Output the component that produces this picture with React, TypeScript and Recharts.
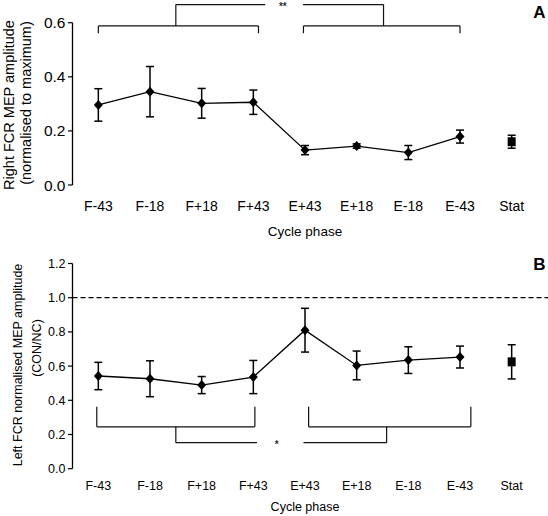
import React from "react";
import {
  ComposedChart,
  Line,
  Scatter,
  XAxis,
  YAxis,
  ErrorBar,
  ReferenceLine,
  ReferenceDot,
} from "recharts";

const FONT = "'Liberation Sans', Arial, Helvetica, sans-serif";

// cycle phases, last one is the static condition (drawn as a separate square)
const phases = ["F-43", "F-18", "F+18", "F+43", "E+43", "E+18", "E-18", "E-43", "Stat"];
const cyclePhases = phases.slice(0, 8);

// panel A: right FCR MEP amplitude (normalised to maximum)
const rightMeans = [0.296, 0.345, 0.302, 0.306, 0.129, 0.144, 0.12, 0.179];
const rightErrs = [0.06, 0.093, 0.055, 0.045, 0.017, 0.008, 0.026, 0.024];
const rightStat = 0.16;
const rightStatErr = 0.024;

// panel B: left FCR normalised MEP amplitude (CON/NC)
const leftMeans = [0.542, 0.526, 0.489, 0.536, 0.81, 0.604, 0.635, 0.653];
const leftErrs = [0.08, 0.105, 0.05, 0.097, 0.128, 0.084, 0.078, 0.064];
const leftStat = 0.625;
const leftStatErr = 0.1;

const topTicks = [0, 0.2, 0.4, 0.6];
const bottomTicks = [0, 0.2, 0.4, 0.6, 0.8, 1.0, 1.2];

// significance brackets, as polylines in (phase index, value) units
const topBrackets = [
  [[0.5, 0.561], [0.5, 0.588], [3.6, 0.588], [3.6, 0.561]],
  [[4.47, 0.561], [4.47, 0.588], [7.5, 0.588], [7.5, 0.561]],
  [[2.0, 0.588], [2.0, 0.667], [3.73, 0.667]],
  [[4.46, 0.667], [6.02, 0.667], [6.02, 0.588]],
];
const topStar = { x: 4.07, y: 0.667, text: "**" };

const bottomBrackets = [
  [[0.47, 0.362], [0.47, 0.245], [3.53, 0.245], [3.53, 0.362]],
  [[4.57, 0.362], [4.57, 0.245], [7.71, 0.245], [7.71, 0.362]],
  [[2.0, 0.245], [2.0, 0.152], [3.57, 0.152]],
  [[4.47, 0.152], [6.08, 0.152], [6.08, 0.245]],
];
const bottomStar = { x: 3.95, y: 0.152, text: "*" };

const boundaryTicks = phases.map((_, i) => i).concat([phases.length]);
const centreTicks = phases.map((_, i) => i + 0.5);

function Diamond(props: any) {
  const { cx, cy, index } = props;
  if (cx == null || cy == null) return null;
  return (
    <polygon
      key={`d-${index}`}
      points={`${cx},${cy - 5} ${cx + 4.5},${cy} ${cx},${cy + 5} ${cx - 4.5},${cy}`}
      fill="#000"
    />
  );
}

function Square(props: any) {
  const { cx, cy } = props;
  return <rect x={cx - 4} y={cy - 4.5} width={8} height={9} fill="#000" />;
}

function segments(brackets: number[][][], prefix: string) {
  const out: any[] = [];
  brackets.forEach((pts, b) => {
    for (let i = 0; i < pts.length - 1; i++) {
      out.push(
        <ReferenceLine
          key={`${prefix}-${b}-${i}`}
          segment={[
            { x: pts[i][0], y: pts[i][1] },
            { x: pts[i + 1][0], y: pts[i + 1][1] },
          ]}
          stroke="#111"
          strokeWidth={1.2}
          ifOverflow="visible"
        />
      );
    }
  });
  return out;
}

function Panel({
  means,
  errs,
  stat,
  statErr,
  height,
  top,
  plotTop,
  plotHeight,
  yMax,
  yTicks,
  brackets,
  star,
  fontSize,
  yFontSize,
  labelGap,
  dashed,
}: any) {
  const rows = cyclePhases.map((p, i) => ({ x: i + 0.5, phase: p, v: means[i], err: errs[i] }));
  const statRows = [{ x: phases.length - 0.5, v: stat, err: statErr }];
  return (
    <div style={{ position: "absolute", left: 0, top }}>
      <ComposedChart
        width={548}
        height={height}
        data={rows}
        margin={{ top: plotTop, right: 10.5, left: 0, bottom: height - plotTop - plotHeight - 60 }}
      >
        <XAxis
          xAxisId={0}
          dataKey="x"
          type="number"
          domain={[0, phases.length]}
          ticks={boundaryTicks}
          interval={0}
          tickFormatter={() => ""}
          tickSize={5}
          height={0}
          axisLine={{ stroke: "#000", strokeWidth: 1.3 }}
          tickLine={{ stroke: "#000", strokeWidth: 1.2 }}
        />
        <XAxis
          xAxisId="lab"
          dataKey="x"
          type="number"
          domain={[0, phases.length]}
          ticks={centreTicks}
          interval={0}
          tickFormatter={(v: number) => phases[Math.floor(v)] ?? ""}
          axisLine={false}
          tickLine={false}
          tickSize={0}
          tickMargin={labelGap}
          height={60}
          tick={{ fill: "#000", fontSize, fontFamily: FONT }}
        />
        <YAxis
          type="number"
          domain={[0, yMax]}
          ticks={yTicks}
          interval={0}
          width={72.5}
          tickSize={4.5}
          tickMargin={2.5}
          tickFormatter={(v: number) => v.toFixed(1)}
          axisLine={{ stroke: "#000", strokeWidth: 1.3 }}
          tickLine={{ stroke: "#000", strokeWidth: 1.2 }}
          tick={{ fill: "#000", fontSize: yFontSize, fontFamily: FONT }}
        />
        {dashed && (
          <ReferenceLine
            segment={[
              { x: 0, y: 1 },
              { x: 9.22, y: 1 },
            ]}
            stroke="#000"
            strokeWidth={1.3}
            strokeDasharray="5 3"
            ifOverflow="visible"
          />
        )}
        {segments(brackets, "br")}
        <ReferenceDot
          x={star.x}
          y={star.y}
          r={0}
          fill="none"
          stroke="none"
          ifOverflow="visible"
          label={{
            value: star.text,
            position: "center",
            fill: "#333",
            stroke: "none",
            fontSize: 10,
            fontWeight: "bold",
            fontFamily: FONT,
            dy: 2,
          }}
        />
        <Line
          dataKey="v"
          stroke="#000"
          strokeWidth={1.3}
          dot={Diamond}
          activeDot={false}
          isAnimationActive={false}
        >
          <ErrorBar dataKey="err" direction="y" width={4} stroke="#000" strokeWidth={1.5} />
        </Line>
        <Scatter data={statRows} dataKey="v" shape={Square} isAnimationActive={false}>
          <ErrorBar dataKey="err" direction="y" width={4} stroke="#000" strokeWidth={1.5} />
        </Scatter>
      </ComposedChart>
    </div>
  );
}

function VLabel({ x, y, size, children }: any) {
  return (
    <div
      style={{
        position: "absolute",
        left: x,
        top: y,
        transform: "translate(-50%, -50%) rotate(-90deg)",
        whiteSpace: "nowrap",
        fontFamily: FONT,
        fontSize: size,
        color: "#000",
        lineHeight: 1,
      }}
    >
      {children}
    </div>
  );
}

function Text({ x, y, size, bold, children }: any) {
  return (
    <div
      style={{
        position: "absolute",
        left: x,
        top: y,
        transform: "translate(-50%, -50%)",
        whiteSpace: "nowrap",
        fontFamily: FONT,
        fontSize: size,
        fontWeight: bold ? "bold" : "normal",
        color: "#000",
        lineHeight: 1,
      }}
    >
      {children}
    </div>
  );
}

export default function App() {
  return (
    <div
      style={{
        position: "absolute",
        left: 0,
        top: 0,
        width: 548,
        height: 516,
        background: "#fff",
        overflow: "hidden",
      }}
    >
      <Panel
        means={rightMeans}
        errs={rightErrs}
        stat={rightStat}
        statErr={rightStatErr}
        top={0}
        height={245}
        plotTop={22.7}
        plotHeight={162.3}
        yMax={0.6}
        yTicks={topTicks}
        brackets={topBrackets}
        star={topStar}
        fontSize={14}
        yFontSize={15.5}
        labelGap={16.5}
      />
      <Panel
        means={leftMeans}
        errs={leftErrs}
        stat={leftStat}
        statErr={leftStatErr}
        top={245}
        height={271}
        plotTop={18.5}
        plotHeight={205.2}
        yMax={1.2}
        yTicks={bottomTicks}
        brackets={bottomBrackets}
        star={bottomStar}
        fontSize={12.5}
        yFontSize={12.5}
        labelGap={12.3}
        dashed
      />
      <VLabel x={8.5} y={105} size={14.5}>Right FCR MEP amplitude</VLabel>
      <VLabel x={26} y={103} size={14.5}>(normalised to maximum)</VLabel>
      <VLabel x={18} y={365} size={12.5}>Left FCR normalised MEP amplitude</VLabel>
      <VLabel x={37} y={348} size={12.5}>(CON/NC)</VLabel>
      <Text x={305} y={232} size={13.5}>Cycle phase</Text>
      <Text x={305} y={507} size={12.5}>Cycle phase</Text>
      <Text x={539.5} y={12} size={17} bold>A</Text>
      <Text x={539.5} y={264} size={17} bold>B</Text>
    </div>
  );
}
